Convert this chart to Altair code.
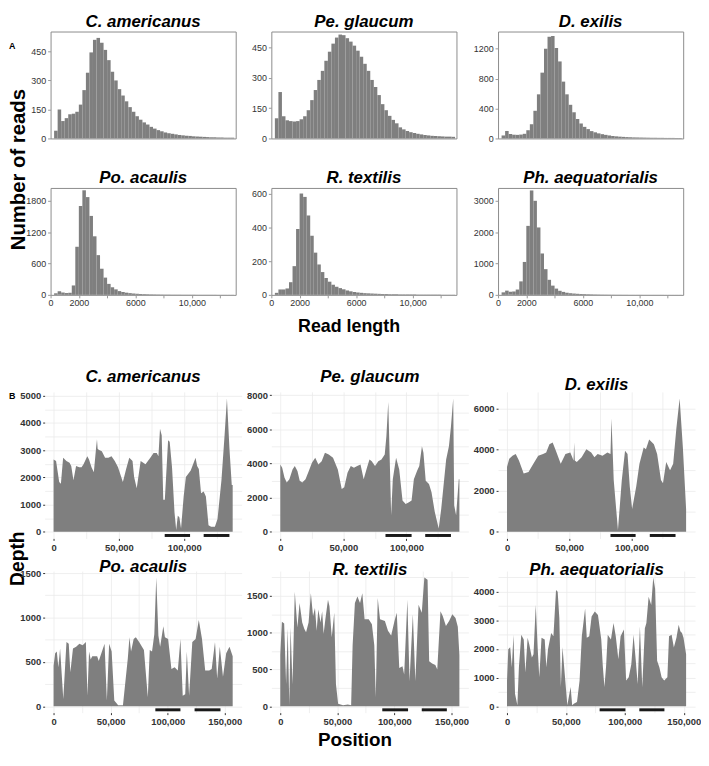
import altair as alt
import pandas as pd

FONT = "Liberation Sans"
GREY = "#7f7f7f"

# ---------------- Panel A : read-length histograms (250 bp bins) ----------------
BIN_WIDTH = 250
read_len_max = 13100

hist_c_americanus = [0, 40, 150, 90, 105, 125, 128, 138, 175, 250, 340, 445, 510, 520, 495, 458, 405, 345, 300, 255,
                     222, 192, 162, 138, 115, 97, 83, 72, 60, 51, 43, 37, 31, 27, 24, 21, 18, 16, 14, 13,
                     11, 10, 9, 8, 7, 6, 6, 5, 5, 4, 4, 4]
hist_pe_glaucum = [0, 100, 230, 110, 90, 86, 84, 86, 95, 110, 140, 190, 240, 290, 335, 385, 430, 470, 500, 515,
                   512, 497, 480, 460, 435, 405, 370, 335, 290, 255, 215, 170, 140, 112, 92, 75, 55, 45, 37, 31,
                   27, 23, 20, 17, 15, 13, 12, 11, 10, 9, 9, 8]
hist_d_exilis = [0, 40, 100, 60, 50, 48, 52, 62, 110, 190, 370, 590, 880, 1200, 1360, 1370, 1210, 1030, 760, 590,
                 450, 350, 260, 200, 155, 125, 98, 82, 68, 57, 48, 40, 33, 28, 24, 21, 18, 16, 14, 13,
                 12, 11, 10, 9, 9, 8, 8, 7, 7, 7, 6, 6]
hist_po_acaulis = [0, 30, 70, 45, 35, 40, 180, 920, 1700, 2000, 1870, 1510, 1120, 760, 500, 330, 210, 145, 105, 72,
                   55, 42, 33, 26, 21, 17, 14, 12, 10, 9, 8, 7, 6, 6, 5, 5, 5, 4, 4, 4,
                   4, 3, 3, 3, 3, 3, 3, 2, 2, 2, 2, 2]
hist_r_textilis = [0, 12, 32, 32, 38, 75, 170, 390, 600, 580, 470, 350, 250, 180, 135, 100, 78, 60, 48, 40,
                   33, 26, 21, 17, 14, 12, 10, 9, 8, 7, 6, 5, 5, 4, 4, 4, 3, 3, 3, 3,
                   3, 2, 2, 2, 2, 2, 2, 2, 1, 1, 1, 1]
hist_ph_aequatorialis = [0, 80, 135, 100, 108, 170, 430, 1050, 2200, 3330, 3000, 2150, 1320, 820, 480, 295, 200, 130, 95, 68,
                         52, 42, 34, 28, 24, 20, 17, 14, 12, 10, 9, 8, 7, 6, 6, 5, 5, 4, 4, 4,
                         4, 3, 3, 3, 3, 3, 3, 2, 2, 2, 2, 2]

hist_ymax = [553, 530, 1430, 2045, 633, 3410]
hist_yticks = [[0, 150, 300, 450], [0, 150, 300, 450], [0, 400, 800, 1200],
               [0, 600, 1200, 1800], [0, 200, 400, 600], [0, 1000, 2000, 3000]]
read_xticks = [0, 2000, 4000, 6000, 8000, 10000, 12000]

# ---------------- Panel B : depth along the plastome ----------------
species = ["C. americanus", "Pe. glaucum", "D. exilis", "Po. acaulis", "R. textilis", "Ph. aequatorialis"]

genome_kb = [137.0, 142.0, 144.0, 157.0, 157.0, 152.0]

pos_c_americanus = [0, 1.9, 4.3, 5.6, 7.3, 9.8, 12.2, 13.5, 15.2, 17.2, 19.6, 21.4, 22.9, 24.6, 25.8,
                    27.1, 29.0, 30.8, 32.5, 33.2, 33.7, 34.5, 36.9, 39.4, 41.9, 44.3, 46.8, 49.3, 53.0, 55.5,
                    57.9, 60.4, 61.6, 63.6, 66.6, 70.3, 74.0, 76.5, 78.9, 80.2, 81.4, 82.7, 83.9, 85.1, 87.6,
                    88.8, 90.6, 92.5, 93.8, 95.0, 96.2, 97.5, 99.5, 101.2, 104.9, 108.6, 109.8, 111.1, 112.8, 114.8,
                    116.5, 118.5, 120.5, 123.4, 125.4, 128.4, 130.8, 132.6, 134.5, 136.3, 137.0]
dep_c_americanus = [2660, 2600, 1830, 1770, 2720, 2600, 2540, 2420, 1890, 2420, 2370, 2370, 2480, 2660, 2780,
                    2660, 2370, 2190, 3080, 3400, 3050, 3020, 2960, 2720, 2720, 2780, 2600, 2370, 1830, 2310,
                    2720, 2600, 2010, 1600, 2600, 2480, 2720, 2900, 2900, 2780, 3790, 3550, 1180, 1180, 3370,
                    3310, 2370, 710, 60, 590, 530, 120, 1300, 2010, 2250, 2720, 2420, 2310, 1420, 1480,
                    1300, 240, 180, 180, 470, 1890, 3550, 4900, 3080, 1720, 1720]

pos_pe_glaucum = [0, 1.5, 3.3, 5.1, 7.2, 9.7, 11.5, 13.6, 15.4, 17.4, 20.0, 22.6, 25.1, 27.7, 30.2,
                  32.8, 35.4, 38.4, 41.8, 45.6, 48.7, 50.7, 53.3, 55.9, 58.4, 61.0, 63.6, 66.1, 68.7, 70.7,
                  72.5, 75.1, 77.7, 80.2, 82.8, 84.1, 85.6, 87.9, 89.2, 91.8, 94.3, 96.9, 99.4, 102.0, 104.1,
                  105.9, 108.4, 110.2, 112.3, 113.5, 115.3, 117.9, 119.9, 122.5, 125.6, 127.6, 131.5, 133.7, 135.3, 137.1,
                  137.9, 139.4, 141.5, 142.0]
dep_pe_glaucum = [3940, 3750, 3170, 2880, 3080, 3650, 3850, 3560, 2980, 2880, 3080, 3560, 4040, 4330, 3940,
                  4130, 4620, 4520, 4330, 3650, 2500, 2600, 3460, 3850, 3750, 3850, 3940, 3080, 3750, 4230,
                  4130, 3850, 4130, 4230, 4520, 5580, 7600, 960, 3080, 4330, 3650, 1830, 1630, 1730, 1830,
                  3080, 3560, 3850, 5000, 4620, 2980, 2790, 2310, 1150, 190, 1350, 4230, 5000, 6150, 7800,
                  1540, 960, 3080, 3080]

pos_d_exilis = [0, 1.8, 4.4, 7.0, 9.6, 13.4, 17.3, 21.2, 25.1, 29.0, 31.5, 34.1, 36.7, 39.3, 43.2,
                47.0, 50.9, 53.5, 54.0, 54.5, 56.1, 60.0, 63.8, 67.7, 70.3, 72.9, 76.8, 80.7, 83.2, 84.0,
                85.8, 89.2, 92.3, 94.9, 96.9, 98.7, 100.6, 103.9, 106.5, 109.9, 111.7, 114.3, 118.1, 120.7, 123.8,
                125.4, 128.0, 131.1, 133.6, 136.2, 138.8, 141.4, 144.0]
dep_d_exilis = [3160, 3560, 3710, 3790, 3480, 2840, 2920, 3320, 3710, 3790, 3870, 4270, 4350, 3950, 3320,
                3790, 3870, 3480, 4350, 3480, 3400, 3630, 4030, 3870, 3630, 3790, 3710, 3870, 3790, 5530,
                2530, 80, 2530, 3950, 3790, 2210, 1110, 2210, 3320, 4110, 4030, 4500, 4270, 3790, 2530,
                2370, 3400, 3000, 3320, 5060, 6500, 4110, 1110]

pos_po_acaulis = [0, 1.4, 2.8, 4.2, 5.7, 8.5, 11.3, 13.3, 14.7, 17.0, 19.8, 22.6, 25.5, 28.3, 29.7,
                  31.1, 32.5, 33.9, 38.2, 39.6, 42.4, 44.7, 46.7, 48.7, 50.9, 53.2, 56.6, 60.8, 65.1, 66.5,
                  67.9, 70.2, 72.1, 75.0, 79.2, 82.6, 84.3, 86.3, 88.3, 90.0, 91.9, 93.4, 96.2, 97.6, 100.4,
                  103.3, 106.1, 108.9, 111.2, 113.2, 115.4, 116.8, 118.8, 121.6, 124.5, 127.3, 130.1, 132.9, 136.4, 138.6,
                  141.5, 143.4, 145.7, 148.5, 151.3, 154.2, 157.0]
dep_po_acaulis = [456, 598, 616, 438, 651, 82, 723, 705, 384, 651, 669, 705, 687, 723, 117,
                  616, 527, 562, 562, 509, 616, 705, 64, 705, 616, 64, 10, 10, 544, 776,
                  616, 758, 776, 723, 633, 100, 633, 616, 811, 1450, 794, 669, 900, 776, 758,
                  420, 438, 402, 758, 117, 135, 616, 117, 723, 758, 972, 758, 402, 402, 420,
                  723, 313, 669, 331, 598, 669, 562]

pos_r_textilis = [0, 1.4, 3.4, 5.1, 6.5, 7.9, 9.0, 10.7, 12.7, 15.0, 16.9, 19.2, 21.1, 22.6, 24.8,
                  26.8, 28.7, 30.4, 31.9, 33.3, 35.3, 36.7, 38.0, 39.5, 41.8, 43.1, 45.1, 47.3, 48.8, 50.7,
                  55.0, 59.2, 62.1, 63.4, 65.4, 67.6, 69.9, 71.9, 73.9, 77.5, 80.3, 82.4, 83.7, 85.4, 87.4,
                  91.7, 94.4, 97.2, 100.1, 102.1, 104.3, 107.1, 108.6, 111.4, 113.3, 116.2, 118.4, 121.2, 124.0, 126.3,
                  129.1, 130.5, 133.1, 135.9, 137.6, 140.4, 142.4, 145.2, 148.0, 150.8, 153.6, 155.6, 157.0]
dep_r_textilis = [697, 1147, 1124, 300, 1058, 13, 1071, 300, 1557, 1071, 1402, 1138, 1049, 1005, 1138,
                  1535, 1226, 1336, 1027, 1314, 1138, 1292, 984, 1182, 1446, 1358, 939, 1270, 300, 35,
                  13, 22, 13, 829, 1402, 1491, 1402, 1535, 1182, 1182, 1115, 829, 123, 1470, 1182,
                  1160, 1027, 961, 1160, 1270, 520, 542, 432, 1446, 344, 1250, 344, 1380, 1270, 1750,
                  1720, 610, 582, 560, 500, 1290, 1226, 1090, 1160, 1250, 1200, 1080, 697]

pos_ph_aequatorialis = [0, 1.1, 2.7, 4.1, 5.5, 6.8, 8.8, 10.1, 12.1, 14.2, 15.6, 17.5, 18.9, 21.1, 22.5,
                        24.4, 26.0, 27.4, 29.3, 32.0, 33.4, 34.8, 37.5, 39.4, 41.6, 43.0, 44.4, 45.7, 47.1, 49.0,
                        51.2, 54.0, 55.3, 56.7, 59.4, 61.6, 63.5, 66.3, 67.7, 69.8, 71.8, 74.5, 77.2, 80.0, 81.3,
                        82.7, 84.1, 85.5, 88.2, 90.4, 92.3, 94.5, 96.4, 99.2, 101.1, 103.3, 105.5, 107.4, 109.3, 110.9,
                        112.8, 114.8, 117.0, 118.3, 120.2, 122.4, 124.1, 125.7, 127.4, 129.3, 131.2, 133.4, 136.1, 137.5, 139.7,
                        141.6, 143.8, 145.7, 147.1, 148.5, 149.8, 152.0]
dep_ph_aequatorialis = [900, 1990, 2060, 1360, 2500, 440, 30, 1360, 2500, 2330, 1180, 2390, 2160, 1700, 1820,
                        3540, 2060, 1010, 2390, 2330, 1360, 1990, 2560, 2450, 4060, 4000, 3080, 670, 2060, 1130,
                        30, 670, 30, 90, 150, 900, 2450, 3420, 2390, 2450, 3140, 3310, 3190, 2330, 1410,
                        670, 1410, 2500, 2330, 2910, 2450, 1640, 2450, 2680, 900, 1010, 1470, 2500, 1590, 780,
                        2790, 670, 2730, 2910, 3830, 3540, 4500, 4110, 1590, 1360, 1010, 900, 1010, 2450, 2500,
                        2050, 2390, 2850, 2620, 2560, 2390, 1820]

# inverted-repeat bars (kb): [start1, end1, start2, end2]
ir_bars = [[85.0, 104.4, 114.8, 134.5], [83.4, 104.1, 114.9, 135.3], [83.2, 103.4, 114.8, 135.5],
           [89.2, 111.2, 123.6, 146.3], [89.4, 112.0, 124.0, 146.0], [78.6, 100.5, 112.3, 133.6]]
depth_ystep = [1000, 2000, 2000, 500, 500, 1000]
depth_title_offset = [4.5, 4.5, -2.5, -8, -8, -8]

hist_lists = [hist_c_americanus, hist_pe_glaucum, hist_d_exilis, hist_po_acaulis, hist_r_textilis, hist_ph_aequatorialis]
pos_lists = [pos_c_americanus, pos_pe_glaucum, pos_d_exilis, pos_po_acaulis, pos_r_textilis, pos_ph_aequatorialis]
dep_lists = [dep_c_americanus, dep_pe_glaucum, dep_d_exilis, dep_po_acaulis, dep_r_textilis, dep_ph_aequatorialis]

# layout (pixels)
A_W, A_H = 187, 108
B_W, B_H1, B_H2 = 199, 148, 143
COL_GAP = 30
GAP_A, GAP_AB, GAP_B = 50, 98, 33


def title_params(text, offset):
    return alt.TitleParams(text=text, font=FONT, fontSize=17, fontWeight="bold", fontStyle="italic",
                           color="black", offset=offset, anchor="middle")


def hist_panel(i, bottom):
    counts = hist_lists[i]
    df = pd.DataFrame({
        "start": [k * BIN_WIDTH for k in range(len(counts))],
        "end": [(k + 1) * BIN_WIDTH for k in range(len(counts))],
        "count": counts,
    })
    y_axis_kw = dict(values=hist_yticks[i], format="d", domain=False, ticks=True, tickSize=3, tickColor="#999999",
                     labelFontSize=9, labelColor="#333333", labelPadding=2, grid=False, labelFont=FONT)
    if i == 0:
        y_axis = alt.Axis(title="Number of reads", titleX=-42, titleY=139, titleAngle=270, titleBaseline="top",
                          titleAlign="center", titleFontSize=20.5, titleFontWeight="bold", titleColor="black",
                          titleFont=FONT, **y_axis_kw)
    else:
        y_axis = alt.Axis(title=None, **y_axis_kw)
    if bottom:
        x_kw = dict(values=read_xticks, domain=False, ticks=True, tickSize=3, tickColor="#999999",
                    labelFontSize=9, labelColor="#333333", labelPadding=1, grid=False, labelFlush=False,
                    labelOverlap=False, labelFont=FONT,
                    labelExpr="datum.value == 10000 ? '10,000' : ((datum.value == 0 || datum.value == 2000 || datum.value == 6000) ? '' + datum.value : '')")
        if i == 4:
            x_axis = alt.Axis(title="Read length", titleX=78, titleY=32, titleBaseline="middle", titleAlign="center",
                              titleFontSize=18, titleFontWeight="bold", titleColor="black", titleFont=FONT, **x_kw)
        else:
            x_axis = alt.Axis(title=None, **x_kw)
    else:
        x_axis = None
    bars = alt.Chart(df).mark_rect(color=GREY).encode(
        x=alt.X("start:Q", scale=alt.Scale(domain=[0, read_len_max], nice=False, zero=False), axis=x_axis),
        x2="end:Q",
        y=alt.Y("count:Q", scale=alt.Scale(domain=[0, hist_ymax[i]], nice=False), axis=y_axis),
        y2=alt.datum(0),
    )
    props = dict(width=A_W, height=A_H, title=title_params(species[i], 1),
                 view=alt.ViewBackground(stroke="#8c8c8c", strokeWidth=1))
    if i == 0:
        lab = alt.Chart(pd.DataFrame({"label": ["A"]})).mark_text(
            align="left", baseline="middle", fontWeight="bold", fontSize=9, font=FONT, color="black"
        ).encode(text="label:N", x=alt.value(-42), y=alt.value(15))
        return alt.layer(bars, lab).properties(**props)
    return bars.properties(**props)


def depth_panel(i, height):
    L = genome_kb[i] * 1000
    dep = dep_lists[i]
    ymax = max(dep)
    step = depth_ystep[i]
    xdom = [-0.05 * L, 1.05 * L]
    ydom = [-0.05 * ymax, 1.05 * ymax]
    xvals = list(range(0, int(L) + 1, 25000))
    yvals = list(range(0, int(ydom[1]) + 1, step // 2))
    df = pd.DataFrame({"pos": [p * 1000 for p in pos_lists[i]], "depth": dep})
    b = ir_bars[i]
    bars_df = pd.DataFrame({"pos": [b[0] * 1000, b[2] * 1000], "pos_end": [b[1] * 1000, b[3] * 1000],
                            "depth": [-0.028 * ymax, -0.028 * ymax]})
    common = dict(domain=False, grid=True, gridColor="#ebebeb", gridWidth=0.8, labelFontSize=9.5,
                  labelFontWeight="bold", labelColor="#333333", labelFont=FONT, labelOverlap=False,
                  ticks=True, tickSize=2, tickColor="#333333")
    if i == 4:
        x_extra = dict(title="Position", titleX=84, titleY=27, titleBaseline="middle", titleAlign="center",
                       titleFontSize=19, titleFontWeight="bold", titleColor="black", titleFont=FONT)
    else:
        x_extra = dict(title=None)
    x_axis = alt.Axis(values=xvals, labelFlush=False, labelPadding=2,
                      labelExpr="datum.value % 50000 == 0 ? format(datum.value, ',') : ''",
                      tickOpacity={"condition": {"test": "datum.value % 50000 == 0", "value": 1}, "value": 0},
                      **common, **x_extra)
    if i == 0:
        y_extra = dict(title="Depth", titleX=-36, titleY=168, titleAngle=270, titleBaseline="top",
                       titleAlign="center", titleFontSize=19.5, titleFontWeight="bold", titleColor="black",
                       titleFont=FONT)
    else:
        y_extra = dict(title=None)
    y_axis = alt.Axis(values=yvals, labelPadding=2,
                      labelExpr=f"datum.value % {step} == 0 ? format(datum.value, 'd') : ''",
                      tickOpacity={"condition": {"test": f"datum.value % {step} == 0", "value": 1}, "value": 0},
                      **common, **y_extra)
    xe = alt.X("pos:Q", scale=alt.Scale(domain=xdom, nice=False, zero=False), axis=x_axis)
    ye = alt.Y("depth:Q", scale=alt.Scale(domain=ydom, nice=False, zero=False), axis=y_axis)
    area = alt.Chart(df).mark_area(color=GREY, opacity=1).encode(x=xe, y=ye, y2=alt.datum(0))
    rule = alt.Chart(bars_df).mark_rule(color="#1a1a1a", strokeWidth=3).encode(x=xe, x2="pos_end:Q", y=ye)
    layers = [area, rule]
    if i == 0:
        lab = alt.Chart(pd.DataFrame({"label": ["B"]})).mark_text(
            align="left", baseline="middle", fontWeight="bold", fontSize=9, font=FONT, color="black"
        ).encode(text="label:N", x=alt.value(-36), y=alt.value(4))
        layers.append(lab)
    return alt.layer(*layers).properties(width=B_W, height=height,
                                         title=title_params(species[i], depth_title_offset[i]),
                                         view=alt.ViewBackground(stroke=None))


def spacer(h):
    return alt.Chart(pd.DataFrame({"v": [0]})).mark_point(opacity=0).encode(
        x=alt.X("v:Q", axis=None), y=alt.Y("v:Q", axis=None)
    ).properties(width=1, height=h)


items = ([hist_panel(i, False) for i in range(3)]
         + [spacer(GAP_A) for _ in range(3)]
         + [hist_panel(i, True) for i in range(3, 6)]
         + [spacer(GAP_AB) for _ in range(3)]
         + [depth_panel(i, B_H1) for i in range(3)]
         + [spacer(GAP_B) for _ in range(3)]
         + [depth_panel(i, B_H2) for i in range(3, 6)])

chart = alt.concat(*items, columns=3, spacing={"row": 0, "column": COL_GAP}, bounds="flush",
                   center=True, align="each").configure(
    font=FONT, padding={"left": 0, "top": 0, "right": 0, "bottom": 0}, background="white"
).configure_view(stroke=None)

chart.save("out.html", embed_options={"renderer": "svg", "actions": False})
